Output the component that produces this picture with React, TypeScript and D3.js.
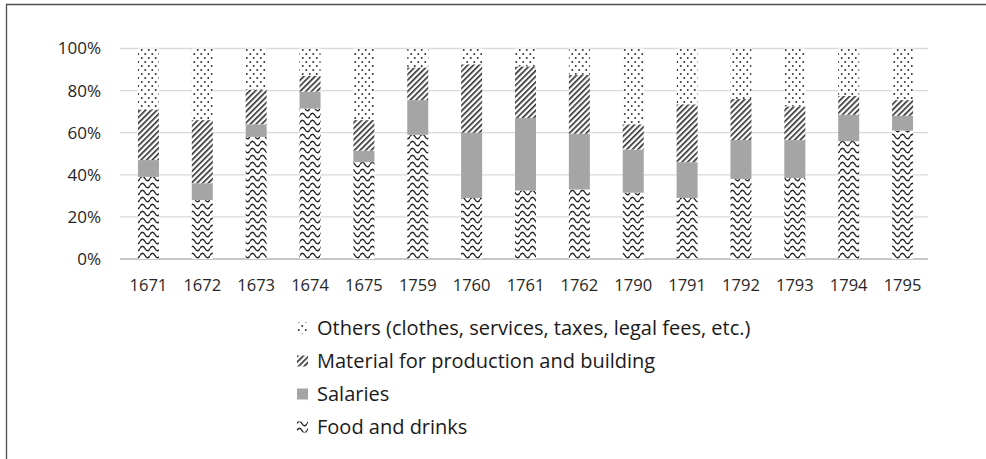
import React, { useEffect, useRef } from 'react';
import * as d3 from 'd3';

// years on the x axis
const years = ['1671', '1672', '1673', '1674', '1675', '1759', '1760', '1761', '1762', '1790', '1791', '1792', '1793', '1794', '1795'];

// shares in percent (bottom to top)
const food = [39, 28, 58, 71.5, 46, 59, 29, 32.5, 33, 31.5, 29, 38, 38.5, 56, 61];
const salaries = [8, 8, 6, 8, 5.5, 16.5, 31, 34.5, 26.5, 20.5, 17, 18.5, 18, 12.5, 7];
const material = [24, 30, 16.5, 7.5, 14.5, 15.5, 32.5, 24.5, 28, 12, 27.5, 19.5, 16, 9, 7.5];
const others = [29, 34, 19.5, 13, 34, 9, 7.5, 8.5, 12.5, 36, 26.5, 24, 27.5, 22.5, 24.5];

const yTicks = [0, 20, 40, 60, 80, 100];

const seriesKeys = ['food', 'salaries', 'material', 'others'];
const legendItems = [
  { key: 'others', label: 'Others (clothes, services, taxes, legal fees, etc.)' },
  { key: 'material', label: 'Material for production and building' },
  { key: 'salaries', label: 'Salaries' },
  { key: 'food', label: 'Food and drinks' },
];

const W = 986;
const H = 459;
const FONT = '"Open Sans", sans-serif';

const fills = {
  food: 'url(#pat-wave)',
  salaries: '#a5a5a5',
  material: 'url(#pat-diag)',
  others: 'url(#pat-dots)',
};

const App = () => {
  const svgRef = useRef(null);

  useEffect(() => {
    const svg = d3.select(svgRef.current);
    svg.selectAll('*').remove();

    // patterns
    const defs = svg.append('defs');
    const wave = defs.append('pattern')
      .attr('id', 'pat-wave')
      .attr('patternUnits', 'userSpaceOnUse')
      .attr('width', 10)
      .attr('height', 7);
    wave.append('rect').attr('width', 10).attr('height', 7).attr('fill', '#fff');
    wave.append('path')
      .attr('d', 'M0,3.5 Q2.5,-1 5,3.5 T10,3.5')
      .attr('fill', 'none')
      .attr('stroke', '#262626')
      .attr('stroke-width', 1.5);

    const diag = defs.append('pattern')
      .attr('id', 'pat-diag')
      .attr('patternUnits', 'userSpaceOnUse')
      .attr('width', 4)
      .attr('height', 4)
      .attr('patternTransform', 'rotate(45)');
    diag.append('rect').attr('width', 4).attr('height', 4).attr('fill', '#fff');
    diag.append('rect').attr('width', 1.6).attr('height', 4).attr('fill', '#2b2b2b');

    const dots = defs.append('pattern')
      .attr('id', 'pat-dots')
      .attr('patternUnits', 'userSpaceOnUse')
      .attr('width', 7)
      .attr('height', 8);
    dots.append('rect').attr('width', 7).attr('height', 8).attr('fill', '#fff');
    dots.append('circle').attr('cx', 1.75).attr('cy', 2).attr('r', 1).attr('fill', '#333');
    dots.append('circle').attr('cx', 5.25).attr('cy', 6).attr('r', 1).attr('fill', '#333');

    // frame (top and left edges only)
    svg.append('line')
      .attr('x1', 6).attr('x2', W).attr('y1', 4.5).attr('y2', 4.5)
      .attr('stroke', '#4d4d4d').attr('stroke-width', 1.3);
    svg.append('line')
      .attr('x1', 6.5).attr('x2', 6.5).attr('y1', 4).attr('y2', H)
      .attr('stroke', '#4d4d4d').attr('stroke-width', 1.3);

    const x = d3.scaleBand()
      .domain(years)
      .range([121.5, 929.5])
      .paddingInner(0.61)
      .paddingOuter(0.305);

    const y = d3.scaleLinear().domain([0, 100]).range([259, 48.5]);

    // gridlines
    svg.append('g')
      .selectAll('line')
      .data(yTicks)
      .join('line')
      .attr('x1', 120)
      .attr('x2', 928)
      .attr('y1', d => y(d))
      .attr('y2', d => y(d))
      .attr('stroke', d => (d === 0 ? '#c6c6c6' : '#d9d9d9'))
      .attr('stroke-width', d => (d === 0 ? 2 : 1.3));

    // y labels
    svg.append('g')
      .selectAll('text')
      .data(yTicks)
      .join('text')
      .attr('x', 101)
      .attr('y', d => y(d))
      .attr('dy', '0.35em')
      .attr('text-anchor', 'end')
      .attr('font-family', FONT)
      .attr('font-size', 17)
      .attr('fill', '#262626')
      .text(d => `${d}%`);

    // x labels
    svg.append('g')
      .selectAll('text')
      .data(years)
      .join('text')
      .attr('x', d => x(d) + x.bandwidth() / 2)
      .attr('y', 285)
      .attr('dy', '0.35em')
      .attr('text-anchor', 'middle')
      .attr('font-family', FONT)
      .attr('font-size', 16.5)
      .attr('fill', '#262626')
      .text(d => d);

    // stacked bars
    const rows = years.map((yr, i) => ({
      year: yr,
      food: food[i],
      salaries: salaries[i],
      material: material[i],
      others: others[i],
    }));
    const stacked = d3.stack().keys(seriesKeys)(rows);

    svg.append('g')
      .selectAll('g')
      .data(stacked)
      .join('g')
      .attr('fill', s => fills[s.key])
      .selectAll('rect')
      .data(s => s)
      .join('rect')
      .attr('x', d => x(d.data.year))
      .attr('width', x.bandwidth())
      .attr('y', d => y(d[1]))
      .attr('height', d => y(d[0]) - y(d[1]));

    // legend
    const legend = svg.append('g')
      .selectAll('g')
      .data(legendItems)
      .join('g')
      .attr('transform', (d, i) => `translate(297, ${328 + i * 33})`);

    legend.append('rect')
      .attr('x', 0)
      .attr('y', -5.5)
      .attr('width', 11)
      .attr('height', 11)
      .attr('fill', d => fills[d.key]);

    legend.append('text')
      .attr('x', 20)
      .attr('y', 0)
      .attr('dy', '0.35em')
      .attr('font-family', FONT)
      .attr('font-size', 20)
      .attr('fill', '#1a1a1a')
      .text(d => d.label);
  }, []);

  return (
    <svg
      ref={svgRef}
      width={W}
      height={H}
      style={{ position: 'absolute', left: 0, top: 0, background: '#fff' }}
    />
  );
};

export default App;
